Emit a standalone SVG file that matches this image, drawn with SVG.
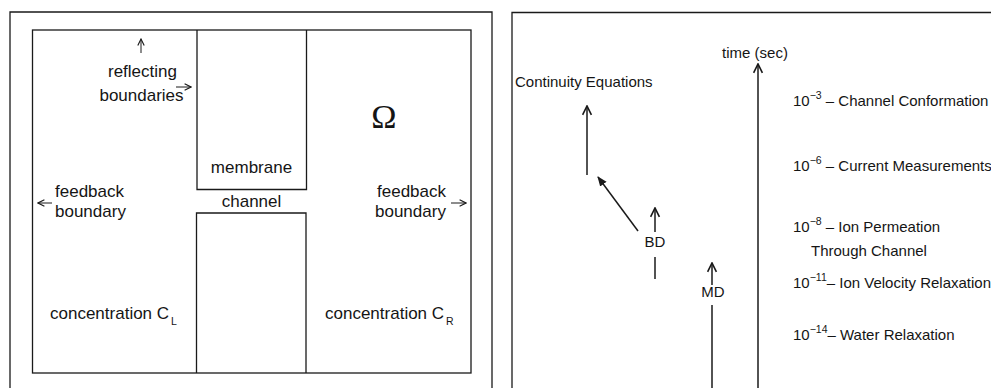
<svg xmlns="http://www.w3.org/2000/svg" width="991" height="388" viewBox="0 0 991 388">
  <style>
    .frame { fill: none; stroke: #1a1a1a; stroke-width: 1.3; }
    .ln { fill: none; stroke: #1a1a1a; stroke-width: 1.5; }
    .thin { fill: none; stroke: #1a1a1a; stroke-width: 1; }
    .t { font-family: "Liberation Sans", Arial, sans-serif; font-size: 17px; fill: #151515; }
    .r { font-family: "Liberation Sans", Arial, sans-serif; font-size: 15px; fill: #151515; }
    .sup { font-size: 10.5px; }
    .mid { text-anchor: middle; }
  </style>
  <defs>
    <marker id="open" viewBox="0 0 10 10" refX="9" refY="5" markerWidth="8" markerHeight="8" markerUnits="userSpaceOnUse" orient="auto">
      <path d="M1,1 L9,5 L1,9" fill="none" stroke="#1a1a1a" stroke-width="1.4"/>
    </marker>
    <marker id="openL" viewBox="0 0 10 10" refX="9" refY="5" markerWidth="11" markerHeight="11" markerUnits="userSpaceOnUse" orient="auto">
      <path d="M1,1 L9,5 L1,9" fill="none" stroke="#1a1a1a" stroke-width="1.5"/>
    </marker>
    <marker id="solid" viewBox="0 0 10 10" refX="9" refY="5" markerWidth="10" markerHeight="10" markerUnits="userSpaceOnUse" orient="auto">
      <path d="M0,1 L10,5 L0,9 Z" fill="#1a1a1a"/>
    </marker>
  </defs>
  <rect width="991" height="388" fill="#ffffff"/>

  <!-- Left panel: simulation domain with membrane and channel -->
  <g id="domain-panel">
    <path class="frame" d="M10,392 V12 H492 V392"/>
    <rect class="frame" x="32.5" y="30" width="438.5" height="343"/>
  </g>
  <g id="membrane-upper">
    <path class="frame" d="M197,30 V189.5 H306.5 V30"/>
    <text class="t mid" x="251.5" y="173">membrane</text>
  </g>
  <g id="membrane-lower">
    <path class="frame" d="M196.5,373 V213 H306 V373"/>
  </g>
  <g id="channel-label">
    <text class="t mid" x="251.5" y="207">channel</text>
  </g>
  <g id="reflecting-label">
    <text class="t mid" x="142.5" y="77">reflecting</text>
    <text class="t mid" x="141.5" y="101">boundaries</text>
  </g>
  <g id="omega-label">
    <text x="384" y="128" text-anchor="middle" font-family="'Liberation Serif', 'Times New Roman', serif" font-size="34" fill="#151515">Ω</text>
  </g>
  <g id="feedback-left">
    <text class="t" x="55" y="197">feedback</text>
    <text class="t" x="55" y="217">boundary</text>
  </g>
  <g id="feedback-right">
    <text class="t" x="377" y="197">feedback</text>
    <text class="t" x="375" y="217">boundary</text>
  </g>
  <g id="concentration-left">
    <text class="t" x="50" y="319">concentration C<tspan class="sup" dx="2" dy="6">L</tspan></text>
  </g>
  <g id="concentration-right">
    <text class="t" x="325" y="319">concentration C<tspan class="sup" dx="2" dy="6">R</tspan></text>
  </g>

  <!-- Right panel: time scales of the models -->
  <g id="timescale-panel">
    <path class="frame" d="M512,392 V12.5 H995"/>
  </g>
  <g id="time-axis">
    <text class="r mid" x="755" y="58">time (sec)</text>
  </g>
  <g id="continuity-equations">
    <text class="r" x="515" y="87">Continuity Equations</text>
  </g>
  <g id="bd">
    <text class="r mid" x="655" y="247">BD</text>
  </g>
  <g id="md">
    <text class="r mid" x="713" y="297">MD</text>
  </g>
  <g id="scale-labels">
    <text class="r" x="793" y="106">10<tspan class="sup" dy="-7">−3</tspan><tspan dy="7"> – Channel Conformation</tspan></text>
    <text class="r" x="793" y="171">10<tspan class="sup" dy="-7">−6</tspan><tspan dy="7"> – Current Measurements</tspan></text>
    <text class="r" x="793" y="232">10<tspan class="sup" dy="-7">−8</tspan><tspan dy="7"> – Ion Permeation</tspan></text>
    <text class="r" x="811" y="256">Through Channel</text>
    <text class="r" x="793" y="288">10<tspan class="sup" dy="-7">−11</tspan><tspan dy="7">– Ion Velocity Relaxation</tspan></text>
    <text class="r" x="793" y="340">10<tspan class="sup" dy="-7">−14</tspan><tspan dy="7">– Water Relaxation</tspan></text>
  </g>

  <g id="connectors">
    <!-- boundary indicator arrows -->
    <line class="thin" x1="141" y1="53" x2="141" y2="39" marker-end="url(#open)"/>
    <line class="thin" x1="176" y1="87" x2="191" y2="87" marker-end="url(#open)"/>
    <line class="thin" x1="52" y1="203" x2="38" y2="203" marker-end="url(#open)"/>
    <line class="thin" x1="451" y1="203" x2="466" y2="203" marker-end="url(#open)"/>
    <!-- time axis -->
    <line class="ln" x1="758" y1="392" x2="758" y2="64" marker-end="url(#openL)"/>
    <!-- continuum model -->
    <line class="ln" x1="587" y1="175" x2="587" y2="106" marker-end="url(#openL)"/>
    <!-- BD feeds the continuum model -->
    <line class="ln" x1="638" y1="231" x2="598" y2="177" marker-end="url(#solid)"/>
    <!-- BD range -->
    <line class="ln" x1="655" y1="232" x2="655" y2="208" marker-end="url(#openL)"/>
    <line class="ln" x1="655" y1="257" x2="655" y2="279"/>
    <!-- MD range -->
    <line class="ln" x1="712" y1="285" x2="712" y2="263" marker-end="url(#openL)"/>
    <line class="ln" x1="712" y1="305" x2="712" y2="392"/>
  </g>
</svg>
